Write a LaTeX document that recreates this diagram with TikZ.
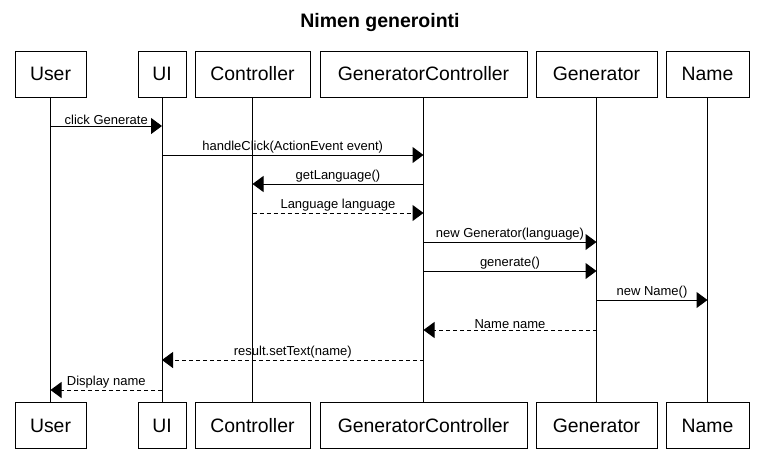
\documentclass[tikz,border=0pt]{standalone}
\usepackage{fontspec}
\setmainfont{Liberation Sans}
\usepackage{tikz}
\usetikzlibrary{positioning}
\usetikzlibrary{arrows.meta}
\tikzset{>={Triangle[length=11pt,width=16pt]}}
\tikzset{
  actor/.style={draw, line width=1pt, minimum height=46pt, inner sep=0pt,
    font=\fontsize{19.4}{23}\selectfont},
  life/.style={line width=1pt},
  call/.style={line width=1pt, ->},
  reply/.style={line width=1pt, ->, dash pattern=on 4pt off 3pt},
  msg/.style={midway, above, inner sep=1pt, font=\fontsize{13}{15}\selectfont}
}

\begin{document}
\begin{tikzpicture}[x=1pt, y=-1pt]

\useasboundingbox (0,0) rectangle (763,472);

% Title
\node (title) at (380,22) {\fontsize{19.5}{23}\selectfont\bfseries Nimen generointi};

% Participants (top)
\node[actor, minimum width=71pt]  (user)  at (50.5,74)  {User};
\node[actor, minimum width=48pt]  (ui)    at (162,74)   {UI};
\node[actor, minimum width=115pt] (ctrl)  at (252.5,74) {Controller};
\node[actor, minimum width=207pt] (gctrl) at (423.5,74) {GeneratorController};
\node[actor, minimum width=121pt] (gen)   at (596.5,74) {Generator};
\node[actor, minimum width=83pt]  (name)  at (707.5,74) {Name};

% Participants (bottom)
\node[actor, minimum width=71pt]  (userB)  at (50.5,425.5)  {User};
\node[actor, minimum width=48pt]  (uiB)    at (162,425.5)   {UI};
\node[actor, minimum width=115pt] (ctrlB)  at (252.5,425.5) {Controller};
\node[actor, minimum width=207pt] (gctrlB) at (423.5,425.5) {GeneratorController};
\node[actor, minimum width=121pt] (genB)   at (596.5,425.5) {Generator};
\node[actor, minimum width=83pt]  (nameB)  at (707.5,425.5) {Name};

% Lifelines
\draw[life] (user)  -- (userB);
\draw[life] (ui)    -- (uiB);
\draw[life] (ctrl)  -- (ctrlB);
\draw[life] (gctrl) -- (gctrlB);
\draw[life] (gen)   -- (genB);
\draw[life] (name)  -- (nameB);

% Messages
\draw[call] (user |- 0,126) -- (ui |- 0,126) node[msg] {click Generate};
\draw[call] (ui |- 0,155) -- (gctrl |- 0,155) node[msg] {handleClick(ActionEvent event)};
\draw[call] (gctrl |- 0,184) -- (ctrl |- 0,184) node[msg] {getLanguage()};
\draw[reply] (ctrl |- 0,213) -- (gctrl |- 0,213) node[msg] {Language language};
\draw[call] (gctrl |- 0,242) -- (gen |- 0,242) node[msg] {new Generator(language)};
\draw[call] (gctrl |- 0,271) -- (gen |- 0,271) node[msg] {generate()};
\draw[call] (gen |- 0,300) -- (name |- 0,300) node[msg] {new Name()};
\draw[reply] (gen |- 0,330) -- (gctrl |- 0,330) node[msg] {Name name};
\draw[reply] (gctrl |- 0,360) -- (ui |- 0,360) node[msg] {result.setText(name)};
\draw[reply] (ui |- 0,390) -- (user |- 0,390) node[msg] {Display name};

\end{tikzpicture}
\end{document}
